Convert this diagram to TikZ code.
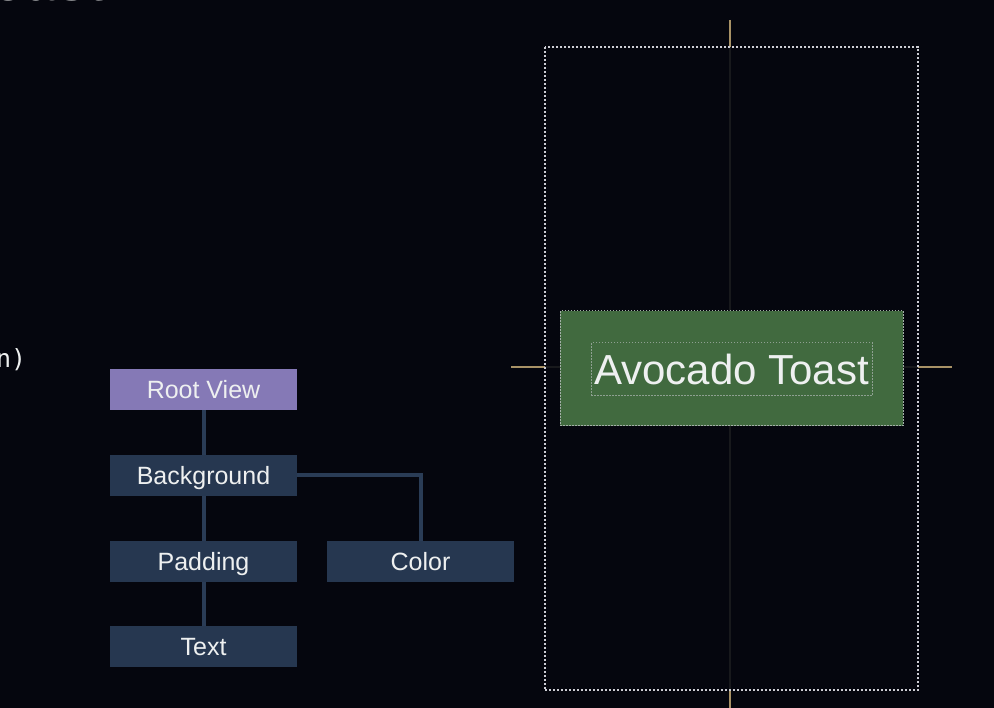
\documentclass[tikz,border=0pt]{standalone}
\usepackage{fontspec}
\setmainfont{Liberation Sans}
\newfontfamily\monof{DejaVu Sans Mono}
\definecolor{bgc}{RGB}{5,6,14}
\definecolor{rootc}{RGB}{133,121,182}
\definecolor{boxc}{RGB}{38,55,80}
\definecolor{linkc}{RGB}{42,60,86}
\definecolor{greenc}{RGB}{65,106,63}
\definecolor{goldc}{RGB}{168,146,102}
\definecolor{guidec}{RGB}{24,25,28}
\definecolor{dotc}{RGB}{205,205,212}
\definecolor{txtc}{RGB}{238,240,240}
\tikzset{
  treebox/.style={fill=boxc, minimum width=187pt, minimum height=41pt, inner sep=0pt,
    text=txtc, text height=18pt, text depth=0pt, font=\fontsize{25}{28}\selectfont},
  rootbox/.style={treebox, fill=rootc},
  link/.style={draw=linkc, line width=4pt},
  guide/.style={draw=guidec, line width=2pt},
  tick/.style={draw=goldc, line width=2pt},
}
\begin{document}
\begin{tikzpicture}[x=1pt,y=-1pt]
\fill[bgc] (0,0) rectangle (994,708);
\useasboundingbox (0,0) rectangle (994,708);
\clip (0,0) rectangle (994,708);
% cut-off title and code fragments
\node[anchor=base west, inner sep=0pt, text=txtc, font=\bfseries\fontsize{56}{60}\selectfont] (title) at (-9,0.5) {oast};
\node[anchor=base west, inner sep=0pt, text=txtc, font=\monof\fontsize{25}{27}\selectfont] (code) at (-4,368) {n)};
% tree
\node[rootbox] (root) at (203.5,389.5) {Root View};
\node[treebox] (bg) at (203.5,475.5) {Background};
\node[treebox] (pad) at (203.5,561.5) {Padding};
\node[treebox] (col) at (420.5,561.5) {Color};
\node[treebox] (txt) at (203.5,646.5) {Text};
\draw[link] (root.south) -- (bg.north);
\draw[link] (bg.south) -- (pad.north);
\draw[link] (pad.south) -- (txt.north);
\draw[link] (bg.east) -| (col.north);
% preview
\coordinate (vt) at (730,20);
\coordinate (vb) at (730,708);
\coordinate (hl) at (511,367);
\coordinate (hr) at (952,367);
\node[draw=none, minimum width=373pt, minimum height=643pt, inner sep=0pt] (frame) at (731.5,368.5) {};
\draw[guide] (730,47) -- (730,690);
\draw[guide] (545,367) -- (918,367);
\draw[tick] (vt) -- (730,47);
\draw[tick] (730,690) -- (vb);
\draw[tick] (hl) -- (545,367);
\draw[tick] (918,367) -- (hr);
\draw[dotc, line width=2pt, dash pattern=on 2pt off 2pt] (frame.north west) rectangle (frame.south east);
\node[fill=greenc, draw=dotc!70!greenc, line width=1pt, dash pattern=on 1.5pt off 1.5pt,
  minimum width=343pt, minimum height=115pt, inner sep=0pt] (green) at (731.5,368.5) {};
\node[draw=dotc!55!greenc, line width=1pt, dash pattern=on 1.5pt off 1.5pt,
  minimum width=281pt, minimum height=53pt, inner sep=0pt, text=txtc,
  text height=30pt, text depth=0pt,
  font=\fontsize{42}{46}\selectfont] (avo) at (731.5,369.5) {Avocado Toast};
\end{tikzpicture}
\end{document}
